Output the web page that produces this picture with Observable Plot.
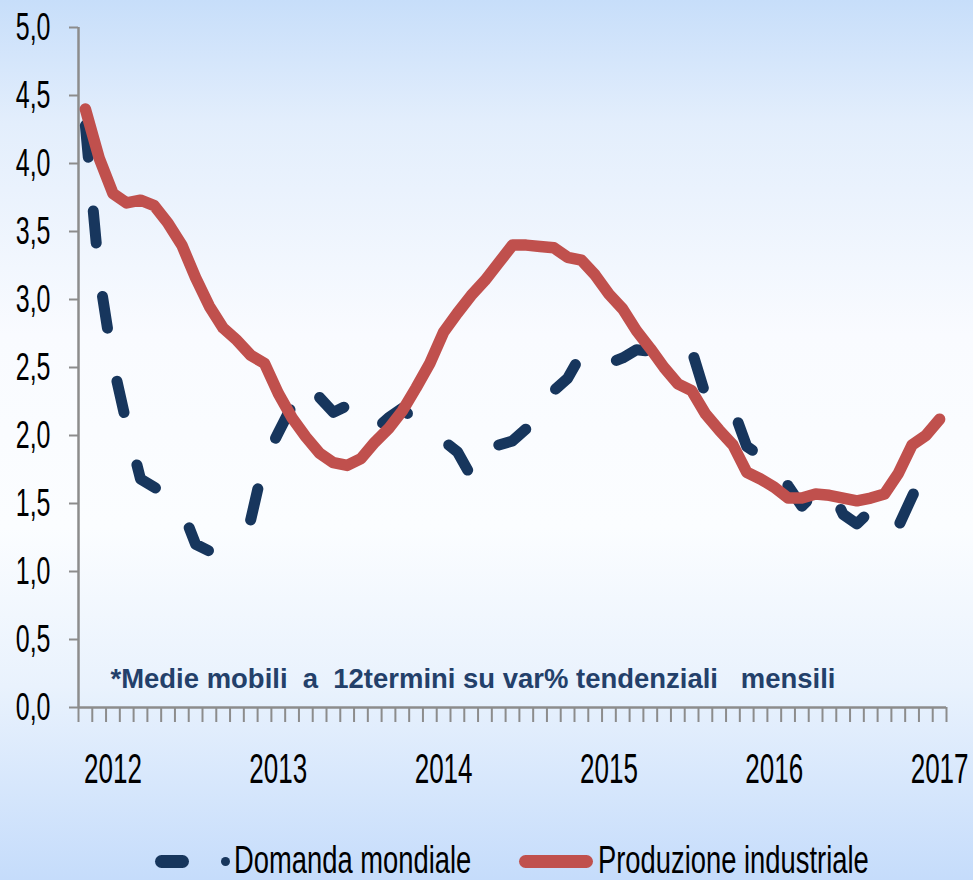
<!DOCTYPE html>
<html>
<head>
<meta charset="utf-8">
<script src="https://cdn.jsdelivr.net/npm/d3@7"></script>
<script src="https://cdn.jsdelivr.net/npm/@observablehq/plot@0.6"></script>
<style>
  html, body { margin: 0; padding: 0; }
  #wrap {
    position: relative; width: 973px; height: 880px; overflow: hidden;
    background: linear-gradient(to bottom, #c7defa 0%, #e3eefc 14%, #f9fbff 38%, #fbfdff 60%, #e9f2fd 78%, #c5dcfb 100%);
    font-family: "Liberation Sans", Arial, sans-serif;
  }
  #legend { position: absolute; left: 0; top: 830px; width: 973px; height: 50px; }
  .sw { position: absolute; border-radius: 7px; }
  .dot { position: absolute; border-radius: 50%; }
  .lt { position: absolute; font-size: 38px; line-height: 1; transform: scaleX(0.72); transform-origin: 0 0; white-space: nowrap; color: #000; }
</style>
</head>
<body>
<div id="wrap">
  <div id="chart"></div>
  <div id="legend"></div>
</div>
<script>
// Monthly observations, Nov 2011 .. Jan 2017 (63 months)
const seriesNames = ["Domanda mondiale", "Produzione industriale"];
const yearLabels = ["2012", "2013", "2014", "2015", "2016", "2017"];
const yearLabelMonthIndex = [2, 14, 26, 38, 50, 62];   // January of each year
const yTicks = [0, 0.5, 1, 1.5, 2, 2.5, 3, 3.5, 4, 4.5, 5];
const note = "*Medie mobili  a  12termini su var% tendenziali   mensili";

const domanda = [
  4.28, 3.18, 2.53, 2.08, 1.68, 1.62, 1.55, 1.46, 1.20, 1.15, 1.18, 1.27,
  1.38, 1.82, 2.02, 2.22, 2.40, 2.28, 2.17, 2.22, 2.20, 2.04, 2.13, 2.20,
  2.10, 1.98, 1.96, 1.88, 1.70, 1.71, 1.93, 1.96, 2.05, 2.30, 2.33, 2.42,
  2.60, 2.50, 2.53, 2.57, 2.63, 2.62, 2.62, 2.63, 2.63, 2.30, 2.28, 2.20,
  1.92, 1.85, 1.83, 1.63, 1.48, 1.58, 1.63, 1.42, 1.35, 1.45, 1.29, 1.33,
  1.55, 1.76, 1.80
];
const produzione = [
  4.40, 4.04, 3.78, 3.71, 3.73, 3.69, 3.56, 3.40, 3.16, 2.95, 2.79, 2.70,
  2.59, 2.53, 2.31, 2.13, 1.99, 1.87, 1.80, 1.78, 1.83, 1.95, 2.05, 2.18,
  2.35, 2.53, 2.76, 2.90, 3.03, 3.14, 3.27, 3.40, 3.40, 3.39, 3.38, 3.31,
  3.29, 3.18, 3.04, 2.93, 2.77, 2.64, 2.50, 2.38, 2.33, 2.16, 2.04, 1.93,
  1.73, 1.68, 1.62, 1.54, 1.54, 1.57, 1.56, 1.54, 1.52, 1.54, 1.57, 1.72,
  1.93, 2.00, 2.12
];

const colors = { [seriesNames[0]]: "#17365d", [seriesNames[1]]: "#c0504d" };
const nMonths = produzione.length;
const boundaries = d3.range(nMonths + 1).map(i => i - 0.5);
const rowsD = domanda.map((v, i) => ({ i, v }));
const rowsP = produzione.map((v, i) => ({ i, v }));
const axisGray = "#8c8c8c";

const chart = Plot.plot({
  width: 973,
  height: 830,
  marginLeft: 78,
  marginRight: 27,
  marginTop: 27,
  marginBottom: 123,
  style: { background: "transparent", fontFamily: "'Liberation Sans', Arial, sans-serif", overflow: "visible" },
  x: { domain: [-0.5, nMonths - 0.5] },
  y: { domain: [0, 5] },
  marks: [
    Plot.axisY({ ticks: yTicks, tickSize: 9, tickPadding: 19, fontSize: 39, stroke: axisGray, strokeWidth: 2, fill: "#000",
      tickFormat: d => d.toFixed(1).replace(".", ","), label: null }),
    Plot.axisX({ ticks: boundaries, tickSize: 15, strokeWidth: 2, stroke: axisGray, tickFormat: () => "", label: null }),
    Plot.axisX({ ticks: yearLabelMonthIndex, tickSize: 0, tickPadding: 46, fontSize: 42, fill: "#000",
      tickFormat: d => yearLabels[yearLabelMonthIndex.indexOf(d)], label: null }),
    Plot.ruleX([-0.5], { stroke: axisGray, strokeWidth: 2.5 }),
    Plot.ruleY([0], { stroke: axisGray, strokeWidth: 2.5 }),
    Plot.text([note], { frameAnchor: "bottom-left", textAnchor: "start", lineAnchor: "bottom", dx: 32, dy: -20,
      fontSize: 28, fontWeight: "bold", fill: "#23406a" }),
    Plot.line(rowsD, { x: "i", y: "v", stroke: colors[seriesNames[0]], strokeWidth: 11,
      strokeDasharray: "32,54", strokeLinecap: "round", strokeLinejoin: "round" }),
    Plot.line(rowsP, { x: "i", y: "v", stroke: colors[seriesNames[1]], strokeWidth: 11.5,
      strokeLinecap: "round", strokeLinejoin: "round" })
  ]
});
document.getElementById("chart").appendChild(chart);

// condensed look of the tick labels (append a horizontal scale to Plot's own translate)
function condense(sel, k) {
  chart.querySelectorAll(sel).forEach(t => {
    const tr = t.getAttribute("transform") || "";
    t.setAttribute("transform", `${tr} scale(${k},1)`);
  });
}
condense('[aria-label="y-axis tick label"] text', 0.64);
condense('[aria-label="x-axis tick label"] text', 0.62);
chart.querySelectorAll("text").forEach(t => {
  if (t.textContent === note) {
    t.style.whiteSpace = "pre";
    t.setAttribute("textLength", 725);
    t.setAttribute("lengthAdjust", "spacingAndGlyphs");
  }
});

// legend
const legend = document.getElementById("legend");
function add(html) { legend.insertAdjacentHTML("beforeend", html); }
add(`<div class="sw" style="left:155px;top:25px;width:34px;height:13px;background:${colors[seriesNames[0]]}"></div>`);
add(`<div class="dot" style="left:221px;top:27px;width:9px;height:9px;background:${colors[seriesNames[0]]}"></div>`);
add(`<div class="lt" style="left:234px;top:11px">${seriesNames[0]}</div>`);
add(`<div class="sw" style="left:519px;top:25px;width:74px;height:13px;background:${colors[seriesNames[1]]}"></div>`);
add(`<div class="lt" style="left:598px;top:11px">${seriesNames[1]}</div>`);
</script>
</body>
</html>
